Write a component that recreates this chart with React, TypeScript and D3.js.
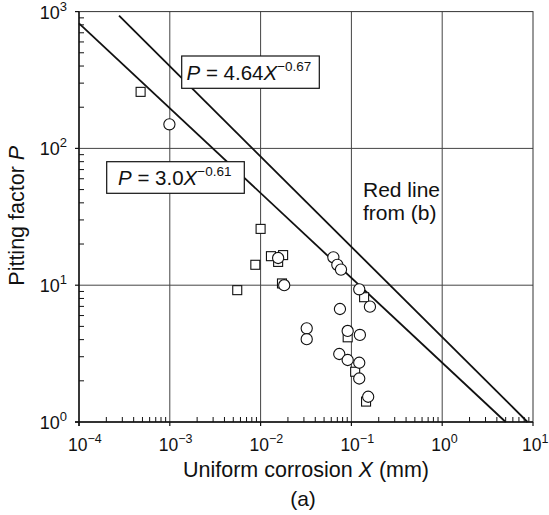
import React from "react";
import * as d3 from "d3";

// ---- data ----
const circleX = [9.9e-4, 0.0156, 0.0182, 0.0633, 0.07, 0.0768, 0.122, 0.16, 0.0748, 0.0322, 0.0322, 0.091, 0.124, 0.0735, 0.091, 0.122, 0.122, 0.153];
const circleP = [150, 15.8, 10.0, 16.0, 14.1, 13.0, 9.33, 6.97, 6.7, 4.84, 4.03, 4.63, 4.33, 3.14, 2.84, 2.71, 2.08, 1.53];
const squareX = [4.77e-4, 0.01, 0.00875, 0.00553, 0.013, 0.0177, 0.0156, 0.0172, 0.138, 0.091, 0.11, 0.145];
const squareP = [259, 25.8, 14.1, 9.2, 16.3, 16.6, 14.8, 10.3, 8.17, 4.16, 2.33, 1.41];
// fitted lines as drawn (start / end points)
const upperLineX = [2.76e-4, 8.7];
const upperLineP = [933, 1];
const lowerLineX = [1e-4, 5.0];
const lowerLineP = [820, 1];
const xTickExp = [-4, -3, -2, -1, 0, 1];
const yTickExp = [0, 1, 2, 3];
const xTitle = "Uniform corrosion ";
const yTitle = "Pitting factor ";
const eqUpper = { coef: "4.64", exp: "\u22120.67" };
const eqLower = { coef: "3.0", exp: "\u22120.61" };
const noteLines = ["Red line", "from (b)"];
const panelLabel = "(a)";

const W = 549, H = 515;
const L = 79, R = 533, T = 11.6, B = 422;
const FONT = "'Liberation Sans', Arial, Helvetica, sans-serif";

export default function App() {
  const x = d3.scaleLog().domain([1e-4, 10]).range([L, R]);
  const y = d3.scaleLog().domain([1, 1000]).range([B, T]);

  const minorX: number[] = [];
  for (let e = -4; e < 1; e++) for (let m = 2; m <= 9; m++) minorX.push(m * Math.pow(10, e));
  const minorY: number[] = [];
  for (let e = 0; e < 3; e++) for (let m = 2; m <= 9; m++) minorY.push(m * Math.pow(10, e));

  const line = d3.line<[number, number]>().x((d) => x(d[0])).y((d) => y(d[1]));
  const upper = line(upperLineX.map((v, i) => [v, upperLineP[i]] as [number, number]));
  const lower = line(lowerLineX.map((v, i) => [v, lowerLineP[i]] as [number, number]));

  const sq = 9;
  return (
    <svg width={W} height={H} style={{ position: "absolute", left: 0, top: 0, background: "#fff" }} fontFamily={FONT}>
      {/* grid */}
      {xTickExp.slice(1, -1).map((e) => (
        <line key={"gx" + e} x1={x(Math.pow(10, e))} x2={x(Math.pow(10, e))} y1={T} y2={B} stroke="#444" strokeWidth={1} />
      ))}
      {yTickExp.slice(1, -1).map((e) => (
        <line key={"gy" + e} x1={L} x2={R} y1={y(Math.pow(10, e))} y2={y(Math.pow(10, e))} stroke="#444" strokeWidth={1} />
      ))}
      {/* frame */}
      <rect x={L} y={T} width={R - L} height={B - T} fill="none" stroke="#333" strokeWidth={1} />
      <line x1={L} x2={L} y1={T} y2={B + 4} stroke="#111" strokeWidth={1.4} />
      <line x1={L - 4} x2={R} y1={B} y2={B} stroke="#111" strokeWidth={1.4} />
      {/* major ticks */}
      {xTickExp.map((e) => (
        <line key={"tx" + e} x1={x(Math.pow(10, e))} x2={x(Math.pow(10, e))} y1={B} y2={B + 4} stroke="#111" strokeWidth={1.2} />
      ))}
      {yTickExp.map((e) => (
        <line key={"ty" + e} x1={L - 4} x2={L} y1={y(Math.pow(10, e))} y2={y(Math.pow(10, e))} stroke="#111" strokeWidth={1.2} />
      ))}
      {/* minor ticks */}
      {minorX.map((v, i) => (
        <line key={"mx" + i} x1={x(v)} x2={x(v)} y1={B} y2={B - 5} stroke="#111" strokeWidth={1} />
      ))}
      {minorY.map((v, i) => (
        <line key={"my" + i} x1={L} x2={L + 5} y1={y(v)} y2={y(v)} stroke="#111" strokeWidth={1} />
      ))}
      {/* fit lines */}
      <path d={upper || ""} fill="none" stroke="#111" strokeWidth={1.8} />
      <path d={lower || ""} fill="none" stroke="#111" strokeWidth={1.8} />
      {/* markers */}
      {squareX.map((v, i) => (
        <rect key={"s" + i} x={x(v) - sq / 2} y={y(squareP[i]) - sq / 2} width={sq} height={sq} fill="#fff" stroke="#111" strokeWidth={1.1} />
      ))}
      {circleX.map((v, i) => (
        <circle key={"c" + i} cx={x(v)} cy={y(circleP[i])} r={5.6} fill="#fff" stroke="#111" strokeWidth={1.1} />
      ))}
      {/* equation boxes */}
      <rect x={181.7} y={56} width={137.6} height={32.3} fill="#fff" stroke="#111" strokeWidth={1.2} />
      <text x={186.5} y={80} fontSize={20.5} fill="#111">
        <tspan fontStyle="italic">P</tspan> = {eqUpper.coef}<tspan fontStyle="italic">X</tspan>
        <tspan dy={-9} fontSize={13.5}>{eqUpper.exp}</tspan>
      </text>
      <rect x={106.7} y={161.7} width={137.6} height={31.6} fill="#fff" stroke="#111" strokeWidth={1.2} />
      <text x={118} y={185} fontSize={20.5} fill="#111">
        <tspan fontStyle="italic">P</tspan> = {eqLower.coef}<tspan fontStyle="italic">X</tspan>
        <tspan dy={-9} fontSize={13.5}>{eqLower.exp}</tspan>
      </text>
      {/* note */}
      <text x={363} y={196.5} fontSize={21} fill="#111">{noteLines[0]}</text>
      <text x={363} y={220} fontSize={21} fill="#111">{noteLines[1]}</text>
      {/* tick labels */}
      {yTickExp.map((e) => (
        <text key={"ly" + e} x={67} y={y(Math.pow(10, e)) + 7} fontSize={18} textAnchor="end" fill="#111">
          10<tspan dy={-8} fontSize={13}>{String(e)}</tspan>
        </text>
      ))}
      {xTickExp.map((e) => (
        <text key={"lx" + e} x={x(Math.pow(10, e)) - 11} y={451} fontSize={17.5} textAnchor="start" fill="#111">
          10<tspan dy={-8} fontSize={12.5}>{e < 0 ? "\u2212" + Math.abs(e) : String(e)}</tspan>
        </text>
      ))}
      {/* axis titles */}
      <text x={(L + R) / 2} y={477} fontSize={21.5} textAnchor="middle" fill="#111">
        {xTitle}<tspan fontStyle="italic">X</tspan> (mm)
      </text>
      <text transform={`translate(24, ${(T + B) / 2 - 1}) rotate(-90)`} fontSize={21.5} textAnchor="middle" fill="#111">
        {yTitle}<tspan fontStyle="italic">P</tspan>
      </text>
      <text x={303} y={506} fontSize={21} textAnchor="middle" fill="#111">{panelLabel}</text>
    </svg>
  );
}
